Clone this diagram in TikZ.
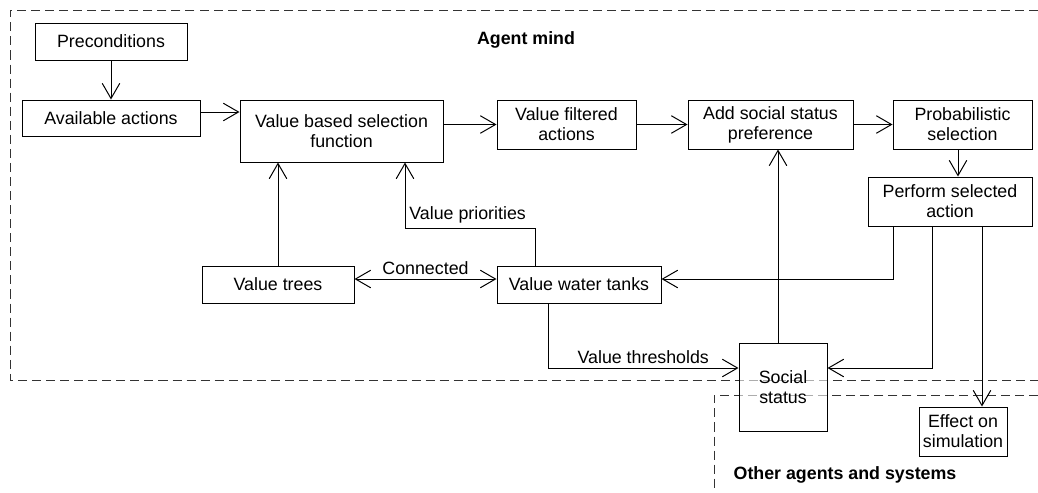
\documentclass[tikz,border=0pt]{standalone}
\usepackage{fontspec}
\setmainfont{Liberation Sans}
\usetikzlibrary{arrows.meta}

\tikzset{
    >={Straight Barb[length=13pt, width=15pt]},
    box/.style 2 args={draw, align=center, inner sep=1pt,
        minimum width=#1*0.03cm, minimum height=#2*0.03cm},
    region/.style={draw=black!80, dash pattern=on 7.7pt off 4.3pt},
}

\begin{document}
\begin{tikzpicture}[x=0.03cm, y=-0.03cm, line width=0.85pt,
    every node/.style={font=\fontsize{15.2}{17.1}\selectfont}]
    \useasboundingbox (0,0) rectangle (1038,492);
    \draw[region] (1038,10) -| (10,380) -- (1038,380);
    \draw[region] (1038,395) -| (714,492);
    \node at (526,40) {\bfseries Agent mind};
    \node at (845,475) {\bfseries Other agents and systems};

    \node[box={152}{37}] (pre) at (111,41.5) {Preconditions};
    \node[box={178}{36}] (avail) at (111,118) {Available actions};
    \node[box={203}{62}] (vbsf) at (341.5,131) {Value based selection\\function};
    \node[box={139}{49}] (vfa) at (566.5,124.5) {Value filtered\\actions};
    \node[box={165}{49}] (assp) at (770.5,124.5) {Add social status\\preference};
    \node[box={139}{49}] (prob) at (962.5,124.5) {Probabilistic\\selection};
    \node[box={164}{49}] (perf) at (950,201.5) {Perform selected\\action};
    \node[box={152}{37}] (trees) at (278,284.5) {Value trees};
    \node[box={164}{37}] (tanks) at (579,284.5) {Value water tanks};
    \node[box={88}{88}, fill=white, fill opacity=0.6, text opacity=1] (social) at (783,387) {Social\\status};
    \node[box={88}{49}] (effect) at (963,431.5) {Effect on\\simulation};

    \draw[->] (pre) -- (avail);
    \draw[->] (avail.east |- 0,112) -- (vbsf.west |- 0,112);
    \draw[->] (vbsf.east |- vfa) -- (vfa.west);
    \draw[->] (vfa) -- (assp);
    \draw[->] (assp) -- (prob);
    \draw[->] (prob.south -| 958,0) -- (perf.north -| 958,0);
    \draw[->] (trees.north) -- (trees.north |- vbsf.south);
    \draw[<->] (trees.east |- 0,279) -- node[above] {Connected} (tanks.west |- 0,279);
    \draw[->] (tanks.north -| 535,0) |- (405,228) node[above right] {Value priorities} -- (vbsf.south -| 405,0);
    \draw[->] (perf.south -| 893,0) |- (tanks.east |- 0,279);
    \draw[->] (perf.south -| 932,0) |- (social.east |- 0,368);
    \draw[->] (perf.south -| 982,0) -- (effect.north -| 982,0);
    \draw[->] (tanks.south -| 548,0) |- node[pos=0.75, above] {Value thresholds} (social.west |- 0,368);
    \draw[->] (social.north -| 778,0) -- (assp.south -| 778,0);
\end{tikzpicture}
\end{document}
